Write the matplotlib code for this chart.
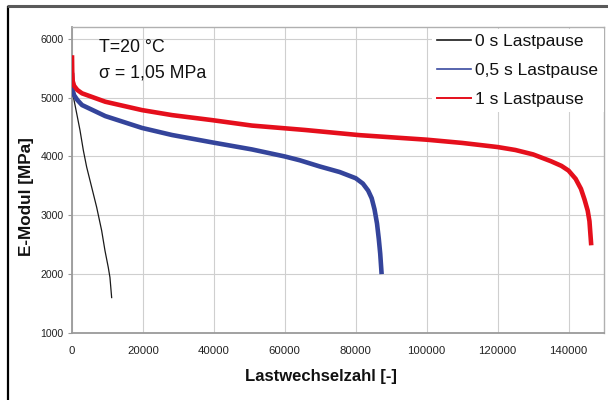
import matplotlib
matplotlib.use("Agg")
import matplotlib.pyplot as plt
from matplotlib.lines import Line2D

plt.rcParams['font.family'] = ['Liberation Sans', 'DejaVu Sans']

# Load cycles (Lastwechselzahl) and elastic modulus [MPa] for each pause length
cycles_0s = [0, 100, 380, 1320, 2250, 3190, 4130, 5540, 6950, 8360, 9300, 10230, 10700, 11180]
modul_0s = [5700, 5244, 5015, 4732, 4447, 4106, 3821, 3480, 3138, 2741, 2399, 2114, 1944, 1602]

cycles_05s = [0, 60, 200, 600, 1500, 2820, 9390, 19720, 28170, 39440, 50700, 60000, 64230,
              69860, 75490, 80000, 82000, 83500, 84500, 85300, 86000, 86500, 86900, 87300]
modul_05s = [5420, 5250, 5120, 5040, 4960, 4874, 4686, 4485, 4365, 4240, 4120, 4000, 3935,
             3830, 3735, 3630, 3540, 3420, 3290, 3100, 2860, 2600, 2350, 2000]

cycles_1s = [0, 60, 200, 600, 1500, 2820, 9390, 19720, 28170, 39440, 50700, 65720, 81130,
             100000, 110000, 120000, 125000, 130000, 135000, 138000, 140000, 142000, 143500,
             144500, 145400, 145900, 146400]
modul_1s = [5720, 5450, 5280, 5200, 5130, 5073, 4930, 4788, 4703, 4618, 4525, 4450, 4362,
            4285, 4230, 4160, 4110, 4035, 3920, 3840, 3760, 3620, 3450, 3270, 3080, 2900, 2490]

series_labels = ['0 s Lastpause', '0,5 s Lastpause', '1 s Lastpause']
x_ticks = [0, 20000, 40000, 60000, 80000, 100000, 120000, 140000]
y_ticks = [1000, 2000, 3000, 4000, 5000, 6000]

W, H = 608, 400
fig = plt.figure(figsize=(W / 100, H / 100), dpi=100)
fig.patch.set_facecolor('white')

# outer frame lines
fig.add_artist(Line2D([8 / W, 8 / W], [0, 1 - 6 / H], color='black', lw=1.6,
                      transform=fig.transFigure, solid_capstyle='butt'))
fig.add_artist(Line2D([7 / W, 1], [1 - 5.5 / H, 1 - 5.5 / H], color='#5a5a5a', lw=2.2,
                      transform=fig.transFigure, solid_capstyle='butt'))

ax = fig.add_axes([72 / W, 1 - 333 / H, (604 - 72) / W, (333 - 27) / H])
ax.set_xlim(0, 150000)
ax.set_ylim(1000, 6200)

red = '#e50f1c'
blue = '#34449b'

ax.plot(cycles_0s, modul_0s, color='#1a1a1a', lw=0.9, label=series_labels[0], zorder=3)
ax.plot(cycles_05s, modul_05s, color=blue, lw=3.3, label=series_labels[1], zorder=3,
        solid_joinstyle='round', solid_capstyle='butt')
ax.plot(cycles_1s, modul_1s, color=red, lw=3.3, label=series_labels[2], zorder=3,
        solid_joinstyle='round', solid_capstyle='butt')

ax.set_xticks(x_ticks)
ax.set_xticklabels([str(v) for v in x_ticks])
ax.set_yticks(y_ticks)
ax.set_yticklabels([str(v) for v in y_ticks])
ax.grid(True, color='#cfcfcf', lw=0.8)
ax.set_axisbelow(True)
ax.tick_params(axis='x', length=0, pad=9, labelsize=8.2, labelcolor='#222222')
ax.tick_params(axis='y', length=3, width=0.8, color='#999999', pad=3, labelsize=7.6,
               labelcolor='#222222')
for side in ['left', 'bottom']:
    ax.spines[side].set_color('#9a9a9a')
    ax.spines[side].set_linewidth(1.3)
for side in ['top', 'right']:
    ax.spines[side].set_color('#b0b0b0')
    ax.spines[side].set_linewidth(1.0)

fig.text(27 / W, 1 - 197 / H, 'E-Modul [MPa]', rotation=90, ha='center', va='center',
         fontsize=12.3, fontweight='bold', color='#111111')
fig.text(321 / W, 1 - 377 / H, 'Lastwechselzahl [-]', ha='center', va='center',
         fontsize=12, fontweight='bold', color='#111111')

ax.text(99 / W, 1 - 48 / H, 'T=20 °C', transform=fig.transFigure, ha='left', va='center',
        fontsize=12.8, color='#111111')
ax.text(99 / W, 1 - 73 / H, 'σ = 1,05 MPa', transform=fig.transFigure, ha='left',
        va='center', fontsize=12.8, color='#111111')

handles = [Line2D([], [], color='#1a1a1a', lw=1.2),
           Line2D([], [], color='#3a4aa0', lw=1.2),
           Line2D([], [], color=red, lw=1.4)]
leg = ax.legend(handles, series_labels, loc='upper left',
                bbox_to_anchor=(432 / W, 1 - 29 / H), bbox_transform=fig.transFigure,
                fontsize=12.5, frameon=True, fancybox=False, framealpha=1,
                edgecolor='none', facecolor='white', handlelength=1.95,
                handletextpad=0.25, labelspacing=0.78, borderpad=0.3, borderaxespad=0)
for t in leg.get_texts():
    t.set_color('#111111')

fig.savefig('out.png', dpi=100)
